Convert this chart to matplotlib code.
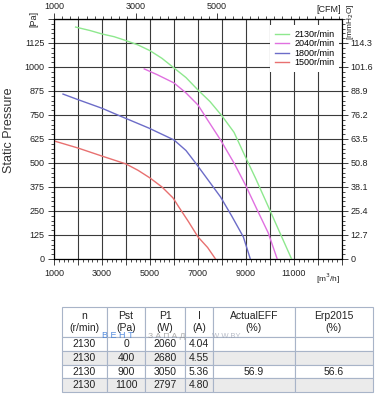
import matplotlib.pyplot as plt
from matplotlib.ticker import MultipleLocator

plt.rcParams['font.family'] = ['Liberation Sans', 'DejaVu Sans']

# fan curves, flow in m3/h, static pressure in Pa
flow_2130 = [1900, 2500, 3000, 3500, 3940, 4500, 5000, 5500, 6000, 6500, 7000, 7500, 8000, 8500, 8900, 9400, 9900, 10400, 10900]
pst_2130 = [1208, 1190, 1172, 1158, 1140, 1115, 1085, 1045, 995, 945, 880, 820, 745, 660, 552, 420, 281, 140, 0]
flow_2040 = [4760, 5300, 6000, 6500, 7000, 7400, 7940, 8500, 8980, 9450, 9930, 10300]
pst_2040 = [990, 960, 917, 865, 802, 724, 620, 500, 385, 260, 135, 0]
flow_1800 = [1375, 2000, 3000, 3750, 4950, 6000, 6500, 6900, 7400, 7940, 8400, 8890, 9180]
pst_1800 = [859, 830, 785, 745, 682, 620, 565, 500, 415, 323, 225, 115, 0]
flow_1500 = [1000, 2000, 3000, 4000, 4500, 5000, 5500, 5960, 6200, 6600, 7000, 7400, 7730]
pst_1500 = [615, 578, 536, 495, 462, 422, 375, 318, 271, 195, 115, 60, 0]
speeds = ['2130r/min', '2040r/min', '1800r/min', '1500r/min']
colors = ['#8ee88e', '#e070e0', '#6c6cc8', '#e87070']

cfm_ticks = [1000, 3000, 5000]
mm_labels = ['0', '12.7', '25.4', '38.1', '50.8', '63.5', '76.2', '88.9', '101.6', '114.3']

col_labels = ['n\n(r/min)', 'Pst\n(Pa)', 'P1\n(W)', 'I\n(A)', 'ActualEFF\n(%)', 'Erp2015\n(%)']
rows = [
    ['2130', '0', '2060', '4.04', '', ''],
    ['2130', '400', '2680', '4.55', '', ''],
    ['2130', '900', '3050', '5.36', '56.9', '56.6'],
    ['2130', '1100', '2797', '4.80', '', ''],
]

W, H = 378, 397
fig = plt.figure(figsize=(W / 100, H / 100), dpi=100)
ax = fig.add_axes([54 / W, 1 - 259 / H, 288 / W, 240 / H])

for fx, py, c, lab in zip([flow_2130, flow_2040, flow_1800, flow_1500],
                          [pst_2130, pst_2040, pst_1800, pst_1500], colors, speeds):
    ax.plot(fx, py, color=c, lw=1.0, label=lab, zorder=3)

ax.set_xlim(1000, 13000)
ax.set_ylim(0, 1250)
ax.xaxis.set_minor_locator(MultipleLocator(200))
ax.yaxis.set_minor_locator(MultipleLocator(25))
ax.set_xticks(range(1000, 13001, 1000))
ax.set_xticklabels(['1000', '', '3000', '', '5000', '', '7000', '', '9000', '', '11000', '', ''])
ax.set_yticks(range(0, 1251, 125))
ax.set_yticklabels([str(v) for v in range(0, 1126, 125)] + [''])
ax.grid(True, which='major', color='#3a3a3a', lw=0.8, zorder=1)
ax.tick_params(which='major', direction='out', length=4, width=0.6, labelsize=6.5, colors='#222222', pad=3)
ax.tick_params(which='minor', direction='out', length=2.5, width=0.5)
for s in ax.spines.values():
    s.set_linewidth(0.8)
ax.text(12400, -65, '[m$^3$/h]', fontsize=6, ha='center', va='top', color='#222222')
ax.text(-0.07, 1.0, '[Pa]', transform=ax.transAxes, rotation=90, fontsize=6.5,
        ha='center', va='center', color='#222222')
fig.text(9 / W, 1 - 130 / H, 'Static Pressure', rotation=90, fontsize=9,
         ha='center', va='center', color='#333333')

# right axis in mmH2O
ax2 = ax.twinx()
ax2.set_ylim(0, 1250)
ax2.set_yticks(range(0, 1126, 125))
ax2.set_yticklabels(mm_labels)
ax2.yaxis.set_minor_locator(MultipleLocator(25))
ax2.tick_params(which='major', direction='out', length=4, width=0.6, labelsize=6.5, colors='#222222', pad=2)
ax2.tick_params(which='minor', direction='out', length=2.5, width=0.5)
fig.text(351 / W, 1 - 3 / H, '[mmH$_2$O]', rotation=90, fontsize=6,
         ha='center', va='top', color='#222222')

# top axis in CFM
ax3 = ax.secondary_xaxis('top', functions=(lambda q: 1000 + (q - 1000) / 1.699,
                                          lambda c: 1000 + (c - 1000) * 1.699))
ax3.set_xticks(cfm_ticks)
ax3.xaxis.set_minor_locator(MultipleLocator(200))
ax3.tick_params(which='major', direction='out', length=4, width=0.6, labelsize=6.5, colors='#222222', pad=2)
ax3.tick_params(which='minor', direction='out', length=2.5, width=0.5)
ax.text(0.955, 1.02, '[CFM]', transform=ax.transAxes, fontsize=6.5, ha='center', va='bottom', color='#222222')

leg = ax.legend(loc='upper right', bbox_to_anchor=(1.0, 0.985), fontsize=6.5, frameon=True,
                framealpha=1, edgecolor='white', fancybox=False, handlelength=1.6,
                handletextpad=0.6, labelspacing=0.05, borderpad=0.5, borderaxespad=0.3)
leg.get_frame().set_linewidth(0)
leg.set_zorder(5)

# table
tax = fig.add_axes([62 / W, 1 - 392 / H, 311 / W, 85 / H])
tax.axis('off')
widths = [45, 38, 40, 28, 82, 78]
cell_colors = [['white'] * 6, ['#ebebeb'] * 6, ['white'] * 6, ['#ebebeb'] * 6]
tbl = tax.table(cellText=rows, colLabels=col_labels, cellColours=cell_colors,
                colWidths=[w / sum(widths) for w in widths], cellLoc='center',
                bbox=[0, 0, 1, 1])
tbl.auto_set_font_size(False)
for (r, c), cell in tbl.get_celld().items():
    cell.set_edgecolor('#a8b4c8')
    cell.set_linewidth(0.8)
    cell.set_height(30 if r == 0 else 13.5)
    cell.get_text().set_fontsize(7.5)
    cell.get_text().set_color('#222222')
    if r == 0:
        cell.set_facecolor('white')

# watermark over the table
fig.text(102 / W, 1 - 336 / H, 'В Е Н Т', fontsize=6.5, color='#3a7ad8', alpha=0.85, ha='left', va='center')
fig.text(148 / W, 1 - 336 / H, 'З А П А Д', fontsize=6, color='#888888', alpha=0.7, ha='left', va='center')
fig.text(212 / W, 1 - 336 / H, 'W W.BY', fontsize=5.5, color='#9aa0b0', alpha=0.7, ha='left', va='center')

fig.savefig('out.png', dpi=100)
